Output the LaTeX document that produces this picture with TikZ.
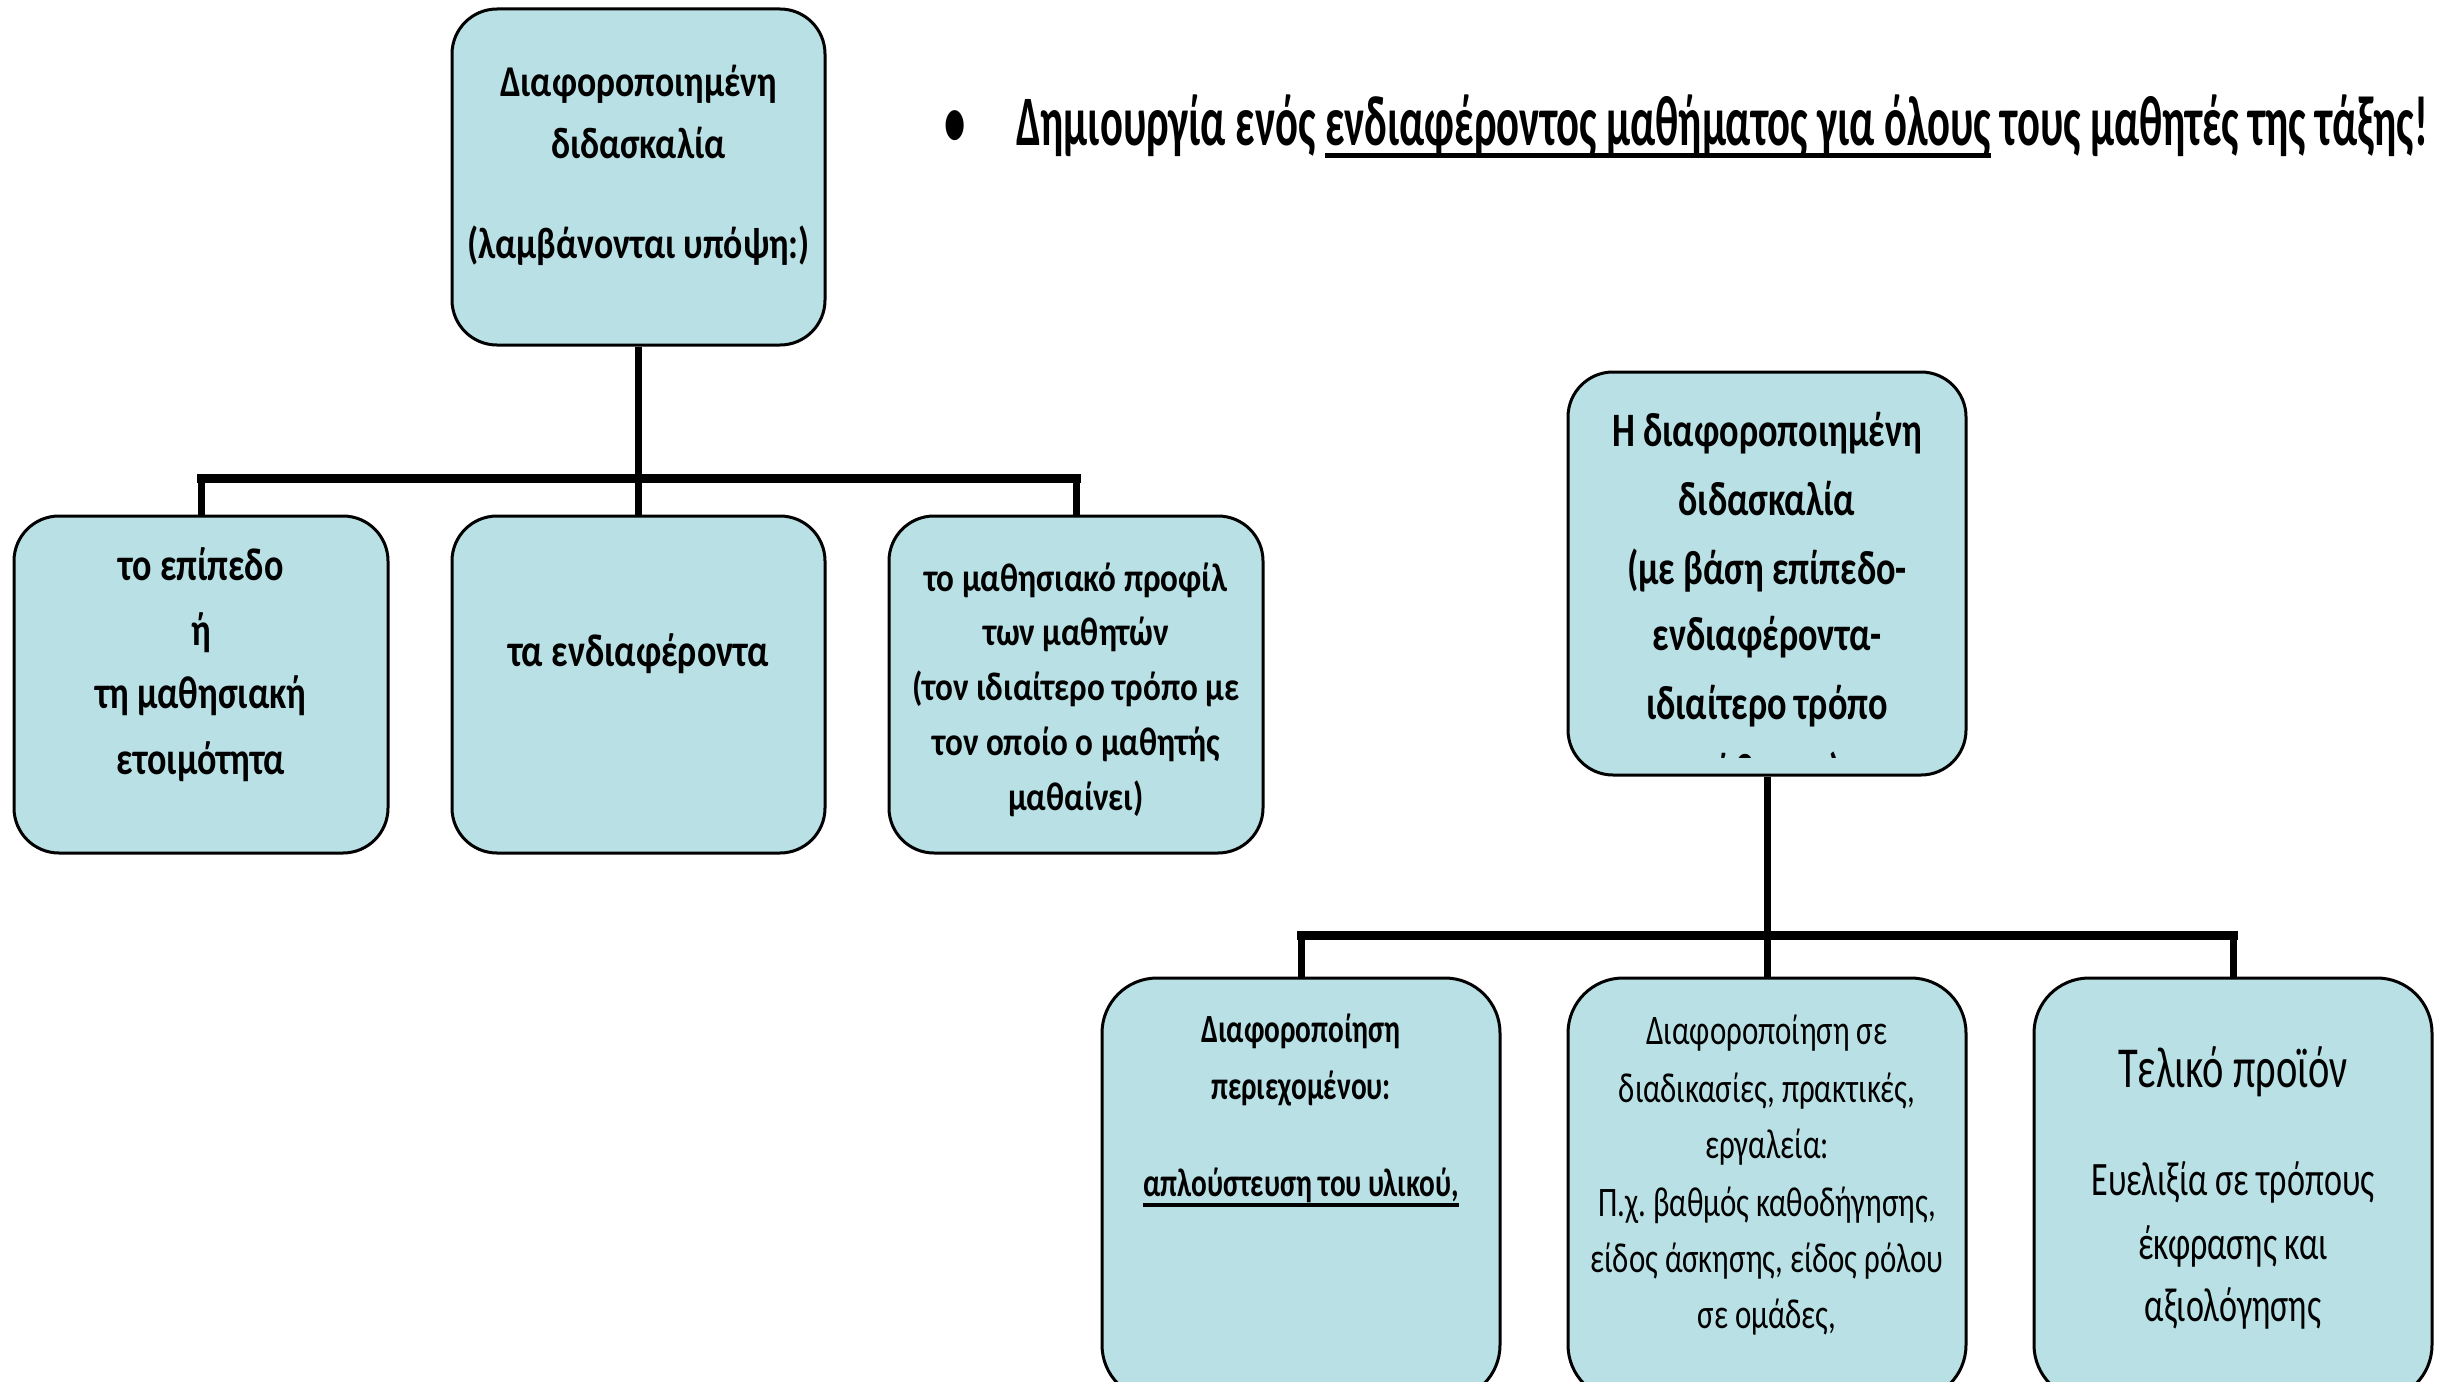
\documentclass[tikz,border=0pt]{standalone}
\usepackage{fontspec}
\setmainfont{Carlito}
\usepackage{graphicx}
\frenchspacing
\definecolor{boxfill}{RGB}{185,224,228}
\newlength\tmpw
\newsavebox\ulbox
\newcommand\calib[3]{\settowidth\tmpw{#3}\pgfmathsetmacro#1{#2/\tmpw}}
\newcommand\myul[3]{\sbox\ulbox{#3}\rlap{\rule[#1]{\wd\ulbox}{#2}}\usebox\ulbox}
\newcommand\putline[5][base]{\node[txt,anchor=#1] (#2) at (#3) {#4{#5}};}
\newcommand\fTop{\bfseries\fontsize{44}{52}\selectfont}
\newcommand\fA{\bfseries\fontsize{46}{54}\selectfont}
\newcommand\fC{\bfseries\fontsize{40}{48}\selectfont}
\newcommand\fR{\bfseries\fontsize{48}{56}\selectfont}
\newcommand\fD{\bfseries\fontsize{40}{48}\selectfont}
\newcommand\fE{\mdseries\fontsize{42}{50}\selectfont}
\newcommand\fFa{\mdseries\fontsize{58}{66}\selectfont}
\newcommand\fF{\mdseries\fontsize{48}{56}\selectfont}
\newcommand\fBul{\bfseries\fontsize{71}{80}\selectfont}
\newcommand\bulline{Δημιουργία ενός \myul{-12.5pt}{5pt}{ενδιαφέροντος μαθήματος για όλους} τους μαθητές της τάξης!}
\AtBeginDocument{%
\frenchspacing
\calib\rTop{277}{\fTop Διαφοροποιημένη}%
\calib\rA{211}{\fA τη μαθησιακή}%
\calib\rB{261}{\fA τα ενδιαφέροντα}%
\calib\rC{327}{\fC (τον ιδιαίτερο τρόπο με}%
\calib\rR{310}{\fR Η διαφοροποιημένη}%
\calib\rD{316}{\fD απλούστευση του υλικού,}%
\calib\rE{353}{\fE είδος άσκησης, είδος ρόλου}%
\calib\rFa{230}{\fFa Τελικό προϊόν}%
\calib\rF{283}{\fF Ευελιξία σε τρόπους}%
\calib\rBul{1412}{\fBul\bulline}%
}
\tikzset{
  box/.style={draw=black, line width=3pt, fill=boxfill, rounded corners=45pt, inner sep=0pt},
  txt/.style={inner sep=0pt, outer sep=0pt},
  vline/.style={line width=7pt},
  hbus/.style={line width=9pt, line cap=rect}
}
\begin{document}
\begin{tikzpicture}[x=1pt,y=-1pt]
\useasboundingbox (0,0) rectangle (2451,1381);
\clip (0,0) rectangle (2451,1381);

% boxes
\node[box, minimum width=373pt, minimum height=336pt] (top) at (638.5,177) {};
\node[box, minimum width=374pt, minimum height=337pt] (A) at (201,684.5) {};
\node[box, minimum width=373pt, minimum height=337pt] (B) at (638.5,684.5) {};
\node[box, minimum width=374pt, minimum height=337pt] (C) at (1076,684.5) {};
\node[box, minimum width=398pt, minimum height=403pt] (R) at (1767,573.5) {};
\node[box, minimum width=398pt, minimum height=422pt, rounded corners=55pt] (D) at (1301,1189) {};
\node[box, minimum width=398pt, minimum height=422pt, rounded corners=55pt] (E) at (1767,1189) {};
\node[box, minimum width=398pt, minimum height=422pt, rounded corners=55pt] (F) at (2233,1189) {};

% connectors, left tree
\coordinate (busL) at (638.5,478);
\draw[vline] (top.south) -- (busL);
\draw[hbus] (A.north |- busL) -- (C.north |- busL);
\draw[vline] (A.north |- busL) -- (A.north);
\draw[vline] (busL) -- (B.north);
\draw[vline] (C.north |- busL) -- (C.north);
% connectors, right tree
\coordinate (busR) at (1767,935);
\draw[vline] (R.south) -- (busR);
\draw[hbus] (D.north |- busR) -- (F.north |- busR);
\draw[vline] (D.north |- busR) -- (D.north);
\draw[vline] (busR) -- (E.north);
\draw[vline] (F.north |- busR) -- (F.north);

% bullet line
\putline{bul}{955.5,145}{\scalebox{\rBul}[1]}{\fBul •}
\putline[base west]{title}{1016,145}{\scalebox{\rBul}[1]}{\fBul\bulline}

% top box
\putline{t1}{638.5,96}{\scalebox{\rTop}[1]}{\fTop Διαφοροποιημένη}
\putline{t2}{638.5,158}{\scalebox{\rTop}[1]}{\fTop διδασκαλία}
\putline{t3}{638.5,258}{\scalebox{\rTop}[1]}{\fTop (λαμβάνονται υπόψη:)}

% box A
\putline{a1}{201,580}{\scalebox{\rA}[1]}{\fA το επίπεδο}
\putline{a2}{201,645}{\scalebox{\rA}[1]}{\fA ή}
\putline{a3}{201,708}{\scalebox{\rA}[1]}{\fA τη μαθησιακή}
\putline{a4}{201,774}{\scalebox{\rA}[1]}{\fA ετοιμότητα}
% box B
\putline{b1}{638.5,666}{\scalebox{\rB}[1]}{\fA τα ενδιαφέροντα}
% box C
\putline{c1}{1076,591}{\scalebox{\rC}[1]}{\fC το μαθησιακό προφίλ}
\putline{c2}{1076,645}{\scalebox{\rC}[1]}{\fC των μαθητών}
\putline{c3}{1076,700}{\scalebox{\rC}[1]}{\fC (τον ιδιαίτερο τρόπο με}
\putline{c4}{1076,755}{\scalebox{\rC}[1]}{\fC τον οποίο ο μαθητής}
\putline{c5}{1076,810}{\scalebox{\rC}[1]}{\fC μαθαίνει)}

% right top box
\putline{r1}{1767,446}{\scalebox{\rR}[1]}{\fR Η διαφοροποιημένη}
\putline{r2}{1767,515}{\scalebox{\rR}[1]}{\fR διδασκαλία}
\putline{r3}{1767,584}{\scalebox{\rR}[1]}{\fR (με βάση επίπεδο-}
\putline{r4}{1767,650}{\scalebox{\rR}[1]}{\fR ενδιαφέροντα-}
\putline{r5}{1767,719}{\scalebox{\rR}[1]}{\fR ιδιαίτερο τρόπο}
\begin{scope}
\clip (1570,740) rectangle (1964,757.5);
\putline{r6}{1767,787}{\scalebox{\rR}[1]}{\fR μάθησης)}
\end{scope}

% box D
\putline{d1}{1301,1042}{\scalebox{\rD}[1]}{\fD Διαφοροποίηση}
\putline{d2}{1301,1099}{\scalebox{\rD}[1]}{\fD περιεχομένου:}
\putline{d3}{1301,1196}{\scalebox{\rD}[1]}{\fD\myul{-11pt}{4pt}{απλούστευση του υλικού,}}
% box E
\putline{e1}{1767,1044}{\scalebox{\rE}[1]}{\fE Διαφοροποίηση σε}
\putline{e2}{1767,1102}{\scalebox{\rE}[1]}{\fE διαδικασίες, πρακτικές,}
\putline{e3}{1767,1158}{\scalebox{\rE}[1]}{\fE εργαλεία:}
\putline{e4}{1767,1216}{\scalebox{\rE}[1]}{\fE Π.χ.\ βαθμός καθοδήγησης,}
\putline{e5}{1767,1272}{\scalebox{\rE}[1]}{\fE είδος άσκησης, είδος ρόλου}
\putline{e6}{1767,1328}{\scalebox{\rE}[1]}{\fE σε ομάδες,}
% box F
\putline{f1}{2233,1087}{\scalebox{\rFa}[1]}{\fFa Τελικό προϊόν}
\putline{f2}{2233,1195}{\scalebox{\rF}[1]}{\fF Ευελιξία σε τρόπους}
\putline{f3}{2233,1259}{\scalebox{\rF}[1]}{\fF έκφρασης και}
\putline{f4}{2233,1321}{\scalebox{\rF}[1]}{\fF αξιολόγησης}
\end{tikzpicture}
\end{document}
